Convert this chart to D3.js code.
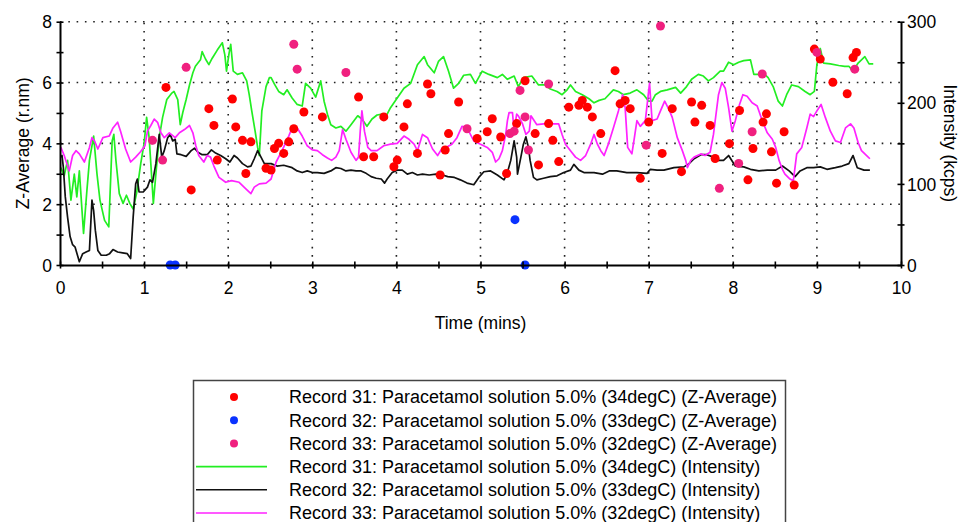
<!DOCTYPE html>
<html><head><meta charset="utf-8">
<script src="https://cdn.jsdelivr.net/npm/d3@7"></script>
<style>
body{margin:0;background:#fff;}
svg{display:block;font-family:"Liberation Sans",Arial,sans-serif;}
</style></head><body>
<svg id="c" width="968" height="522"></svg>
<script>
// ---------- DATA ----------
const timeTicks = [0,0.5,1,1.5,2,2.5,3,3.5,4,4.5,5,5.5,6,6.5,7,7.5,8,8.5,9,9.5,10];
const zTicks = [0,1,2,3,4,5,6,7,8];
const intensityTicks = [0,50,100,150,200,250,300];
const zGrid = [2,4,6,8];
const timeGrid = [1,2,3,4,5,6,7,8,9];

// Z-Average scatter points [time (mins), Z-Average]
const r31Z = [[1.26,5.84],[1.56,2.47],[1.77,5.14],[1.83,4.59],[1.87,3.45],[2.05,5.46],[2.09,4.54],[2.17,4.10],[2.21,3.01],[2.27,4.05],[2.45,3.18],[2.51,3.12],[2.55,3.83],[2.60,4.00],[2.66,3.67],[2.72,4.05],[2.78,4.48],[2.90,5.03],[3.12,4.87],[3.55,5.52],[3.61,3.56],[3.73,3.56],[3.85,4.87],[3.97,3.23],[4.01,3.45],[4.09,4.54],[4.13,5.30],[4.25,3.67],[4.37,5.95],[4.41,5.63],[4.52,2.96],[4.58,3.78],[4.62,4.32],[4.74,5.36],[4.96,4.16],[5.08,4.38],[5.14,4.81],[5.24,4.21],[5.31,3.01],[5.43,4.65],[5.53,6.06],[5.65,4.32],[5.69,3.29],[5.81,4.65],[5.86,4.10],[5.93,3.40],[6.05,5.19],[6.17,5.25],[6.21,5.41],[6.27,5.19],[6.33,4.87],[6.43,4.32],[6.60,6.39],[6.66,5.30],[6.72,5.41],[6.78,5.14],[6.90,2.85],[7.00,4.70],[7.16,3.67],[7.28,5.14],[7.39,3.07],[7.51,5.36],[7.55,4.70],[7.63,5.25],[7.73,4.59],[7.79,3.50],[7.96,3.99],[8.08,5.08],[8.18,2.80],[8.24,3.83],[8.36,4.70],[8.40,4.97],[8.46,3.72],[8.52,2.69],[8.61,4.38],[8.73,2.63],[8.97,7.10],[9.04,6.77],[9.19,6.01],[9.36,5.63],[9.43,6.82],[9.47,6.99]];
const r32Z = [[1.31,0],[1.37,0],[5.41,1.49],[5.53,0]];
const r33Z = [[1.10,4.10],[1.22,3.45],[1.50,6.50],[2.78,7.26],[2.82,6.44],[3.40,6.33],[4.84,4.48],[5.35,4.32],[5.40,4.40],[5.47,5.74],[5.53,4.87],[5.57,3.78],[5.81,5.95],[6.97,3.94],[7.14,7.86],[7.84,2.52],[8.07,3.34],[8.23,4.38],[8.35,6.28],[9.00,6.99],[9.45,6.44]];

// Intensity lines [time (mins), kcps]
const r31Intensity = [[0.01,120],[0.05,110],[0.09,129],[0.13,80],[0.17,112],[0.20,84],[0.23,116],[0.28,39],[0.32,92],[0.35,129],[0.40,159],[0.44,112],[0.475,80],[0.53,55],[0.58,47],[0.62,153],[0.64,161],[0.665,129],[0.705,88],[0.75,76],[0.79,86],[0.83,76],[0.87,69],[0.91,88],[0.96,125],[1.00,150],[1.03,182],[1.06,157],[1.08,125],[1.11,76],[1.14,112],[1.18,157],[1.22,182],[1.27,204],[1.33,212],[1.355,214],[1.40,204],[1.43,173],[1.46,188],[1.50,204],[1.54,222],[1.58,237],[1.61,245],[1.67,253],[1.69,263],[1.73,254],[1.77,247],[1.81,255],[1.87,265],[1.93,274],[1.96,259],[1.98,239],[2.01,261],[2.03,272],[2.06,239],[2.11,235],[2.17,237],[2.22,227],[2.25,210],[2.28,190],[2.32,165],[2.35,145],[2.37,135],[2.40,190],[2.45,220],[2.49,231],[2.51,231],[2.55,223],[2.60,214],[2.66,210],[2.70,216],[2.76,206],[2.82,198],[2.88,196],[2.92,224],[2.98,218],[3.04,207],[3.10,227],[3.14,202],[3.18,186],[3.22,173],[3.28,169],[3.34,171],[3.40,165],[3.46,173],[3.54,184],[3.59,180],[3.65,171],[3.71,180],[3.77,185],[3.83,186],[3.87,182],[3.93,194],[4.01,206],[4.09,218],[4.17,224],[4.25,247],[4.33,257],[4.37,247],[4.45,237],[4.50,251],[4.56,257],[4.62,239],[4.68,218],[4.74,224],[4.80,234],[4.88,235],[4.94,224],[5.02,239],[5.10,235],[5.20,231],[5.26,235],[5.32,229],[5.40,233],[5.45,220],[5.51,231],[5.61,233],[5.69,222],[5.77,222],[5.83,217],[5.91,214],[5.97,210],[6.03,216],[6.07,222],[6.13,214],[6.21,210],[6.29,205],[6.35,200],[6.41,203],[6.48,205],[6.58,216],[6.64,214],[6.70,210],[6.78,212],[6.86,216],[6.94,210],[7.00,202],[7.04,202],[7.08,210],[7.14,214],[7.22,216],[7.32,219],[7.38,212],[7.45,220],[7.51,229],[7.59,235],[7.65,233],[7.71,227],[7.77,231],[7.85,239],[7.89,239],[7.95,250],[8.01,247],[8.07,250],[8.13,252],[8.21,253],[8.25,235],[8.31,235],[8.36,237],[8.42,231],[8.48,220],[8.54,202],[8.59,196],[8.64,210],[8.70,222],[8.78,220],[8.86,214],[8.92,210],[8.97,214],[9.00,247],[9.04,267],[9.08,249],[9.16,248],[9.26,246],[9.33,245],[9.38,245],[9.43,239],[9.49,249],[9.57,257],[9.62,248],[9.67,248]];
const r32Intensity = [[0.01,133],[0.024,135],[0.04,120],[0.063,84],[0.09,59],[0.12,35],[0.15,25],[0.18,22],[0.23,4],[0.27,14],[0.31,16],[0.35,18],[0.38,80],[0.40,67],[0.42,43],[0.45,18],[0.49,12],[0.55,12],[0.59,14],[0.63,19],[0.685,16],[0.745,15],[0.80,14],[0.84,8],[0.87,59],[0.90,100],[0.92,106],[0.94,90],[0.99,90],[1.04,96],[1.07,105],[1.10,102],[1.14,125],[1.18,161],[1.21,133],[1.24,141],[1.28,157],[1.31,161],[1.34,153],[1.37,155],[1.39,137],[1.44,136],[1.50,134],[1.56,141],[1.60,144],[1.64,139],[1.69,136],[1.75,136],[1.80,142],[1.85,138],[1.91,135],[1.97,131],[2.02,127],[2.07,135],[2.11,132],[2.17,125],[2.23,121],[2.27,122],[2.31,131],[2.35,141],[2.39,133],[2.43,125],[2.51,125],[2.58,122],[2.66,123],[2.76,120],[2.82,116],[2.88,114],[2.94,116],[3.00,114],[3.06,114],[3.14,113],[3.22,116],[3.28,120],[3.34,119],[3.40,116],[3.46,117],[3.52,116],[3.58,116],[3.64,113],[3.70,109],[3.76,107],[3.82,106],[3.86,101],[3.89,106],[3.95,114],[4.01,117],[4.07,117],[4.13,112],[4.19,114],[4.25,111],[4.31,112],[4.39,111],[4.47,112],[4.55,111],[4.61,109],[4.69,108],[4.76,105],[4.84,101],[4.92,99],[4.98,108],[5.04,115],[5.12,116],[5.20,111],[5.28,105],[5.32,114],[5.36,129],[5.40,153],[5.43,133],[5.44,112],[5.48,133],[5.51,149],[5.54,158],[5.57,145],[5.59,129],[5.63,108],[5.67,105],[5.75,107],[5.83,109],[5.91,110],[5.99,114],[6.07,117],[6.11,124],[6.17,117],[6.23,114],[6.35,114],[6.45,112],[6.53,116],[6.62,116],[6.74,114],[6.86,114],[6.98,113],[7.02,118],[7.10,117],[7.18,117],[7.30,120],[7.42,121],[7.48,125],[7.54,131],[7.62,136],[7.69,136],[7.77,133],[7.81,129],[7.89,129],[7.95,135],[8.03,122],[8.13,121],[8.21,118],[8.31,116],[8.41,117],[8.51,117],[8.59,122],[8.67,116],[8.74,109],[8.80,116],[8.88,120],[8.96,120],[9.04,121],[9.12,118],[9.22,120],[9.30,122],[9.38,125],[9.43,135],[9.48,120],[9.56,117],[9.63,117]];
const r33Intensity = [[0.01,145],[0.05,135],[0.11,116],[0.15,135],[0.19,141],[0.23,137],[0.29,127],[0.35,145],[0.38,157],[0.41,153],[0.45,143],[0.51,157],[0.585,159],[0.63,169],[0.685,176],[0.72,165],[0.78,143],[0.84,127],[0.90,133],[0.96,140],[1.01,147],[1.04,165],[1.08,172],[1.12,180],[1.16,176],[1.20,163],[1.24,157],[1.30,163],[1.37,157],[1.42,163],[1.48,167],[1.54,172],[1.58,163],[1.615,147],[1.65,135],[1.71,127],[1.75,135],[1.79,133],[1.83,122],[1.89,108],[1.97,102],[2.04,104],[2.13,102],[2.21,94],[2.27,88],[2.31,96],[2.37,100],[2.45,101],[2.51,106],[2.55,120],[2.57,127],[2.64,141],[2.72,159],[2.76,169],[2.82,169],[2.88,159],[2.94,147],[3.00,142],[3.06,141],[3.12,136],[3.18,132],[3.23,129],[3.28,133],[3.32,141],[3.36,167],[3.40,155],[3.46,139],[3.52,129],[3.55,133],[3.57,165],[3.59,190],[3.62,165],[3.66,145],[3.70,141],[3.77,141],[3.85,147],[3.93,149],[4.01,150],[4.09,159],[4.15,155],[4.21,149],[4.25,141],[4.31,161],[4.37,157],[4.43,143],[4.49,135],[4.55,145],[4.61,146],[4.66,149],[4.72,157],[4.78,171],[4.84,169],[4.92,153],[5.00,149],[5.08,145],[5.14,139],[5.18,127],[5.22,131],[5.26,141],[5.30,161],[5.32,178],[5.34,188],[5.38,188],[5.40,165],[5.43,186],[5.45,184],[5.50,174],[5.54,161],[5.58,165],[5.60,184],[5.67,173],[5.75,174],[5.83,174],[5.93,174],[5.97,161],[6.01,149],[6.07,141],[6.13,133],[6.19,129],[6.25,135],[6.31,149],[6.35,161],[6.39,149],[6.43,141],[6.47,135],[6.52,149],[6.58,169],[6.64,190],[6.69,210],[6.72,194],[6.75,145],[6.80,137],[6.83,157],[6.86,178],[6.90,171],[6.96,178],[7.01,224],[7.04,178],[7.10,180],[7.14,190],[7.19,202],[7.24,192],[7.28,182],[7.34,157],[7.40,141],[7.44,129],[7.46,120],[7.50,129],[7.54,133],[7.62,137],[7.67,135],[7.73,139],[7.77,161],[7.83,210],[7.87,225],[7.91,218],[7.95,194],[7.99,165],[8.03,178],[8.08,198],[8.12,210],[8.17,208],[8.23,200],[8.29,196],[8.35,178],[8.41,163],[8.47,155],[8.51,145],[8.55,129],[8.59,118],[8.62,112],[8.68,106],[8.72,104],[8.76,137],[8.82,145],[8.88,169],[8.92,186],[8.96,183],[9.00,190],[9.05,198],[9.10,182],[9.16,165],[9.22,153],[9.28,151],[9.34,169],[9.40,174],[9.44,169],[9.49,151],[9.53,141],[9.57,137],[9.63,131]];

const legendLabels = [
  "Record 31: Paracetamol solution 5.0% (34degC) (Z-Average)",
  "Record 32: Paracetamol solution 5.0% (33degC) (Z-Average)",
  "Record 33: Paracetamol solution 5.0% (32degC) (Z-Average)",
  "Record 31: Paracetamol solution 5.0% (34degC) (Intensity)",
  "Record 32: Paracetamol solution 5.0% (33degC) (Intensity)",
  "Record 33: Paracetamol solution 5.0% (32degC) (Intensity)"
];
const legendKinds = ["dot","dot","dot","line","line","line"];
const seriesColors = ["#ff0000","#0a32ff","#f0207f","#22ee22","#111111","#ff22ff"];

// ---------- CHART ----------
const svg = d3.select("#c");
const X0 = 60, X1 = 901, Y0 = 265, Y1 = 21.7;
const FS = "17.5px";
const x = d3.scaleLinear().domain([0,10]).range([X0,X1]);
const yZ = d3.scaleLinear().domain([0,8]).range([Y0,Y1]);
const yI = d3.scaleLinear().domain([0,300]).range([Y0,Y1]);

// dotted grid
const grid = svg.append("g").attr("stroke","#222").attr("stroke-width",1.6).attr("stroke-dasharray","1.6,6.7");
grid.selectAll("line.gh").data(zGrid).join("line").attr("class","gh")
  .attr("x1",X0).attr("x2",X1).attr("y1",d=>yZ(d)).attr("y2",d=>yZ(d));
grid.selectAll("line.gv").data(timeGrid).join("line").attr("class","gv")
  .attr("x1",d=>x(d)).attr("x2",d=>x(d)).attr("y1",Y0).attr("y2",Y1);

// intensity lines
const lineGen = d3.line().x(d=>x(d[0])).y(d=>yI(d[1]));
[[r31Intensity,seriesColors[3]],[r32Intensity,seriesColors[4]],[r33Intensity,seriesColors[5]]].forEach(([data,col])=>{
  svg.append("path").datum(data).attr("d",lineGen).attr("fill","none")
    .attr("stroke",col).attr("stroke-width",1.7).attr("stroke-linejoin","round");
});

// scatter
[[r31Z,seriesColors[0]],[r32Z,seriesColors[1]],[r33Z,seriesColors[2]]].forEach(([data,col])=>{
  svg.append("g").selectAll("circle").data(data).join("circle")
    .attr("cx",d=>x(d[0])).attr("cy",d=>yZ(d[1])).attr("r",4.5).attr("fill",col);
});

// axes
function styleAxis(g){
  g.attr("font-family",null).attr("font-size",null);
  g.select(".domain").attr("stroke","#000").attr("stroke-width",2);
  g.selectAll(".tick line").attr("stroke","#000").attr("stroke-width",1.6);
  g.selectAll(".tick text").attr("fill","#000").style("font-size",FS);
}
const gx = svg.append("g").attr("transform",`translate(0,${Y0})`)
  .call(d3.axisBottom(x).tickValues(timeTicks).tickFormat(d=>Number.isInteger(d)?d:"").tickSizeOuter(0).tickSize(0));
styleAxis(gx);
gx.selectAll(".tick line").attr("y1",-3.5).attr("y2",3.5);
gx.selectAll(".tick text").attr("y",29).attr("dy",null);

const gl = svg.append("g").attr("transform",`translate(${X0},0)`)
  .call(d3.axisLeft(yZ).tickValues(zTicks).tickFormat(d=>d%2===0?d:"").tickSizeOuter(0).tickSize(0));
styleAxis(gl);
gl.selectAll(".tick line").attr("x1",-3.5).attr("x2",3.5);
gl.selectAll(".tick text").attr("x",-8).attr("dy","0.35em");

const gr = svg.append("g").attr("transform",`translate(${X1},0)`)
  .call(d3.axisRight(yI).tickValues(intensityTicks).tickFormat(d=>d%100===0?d:"").tickSizeOuter(0).tickSize(0));
styleAxis(gr);
gr.selectAll(".tick line").attr("x1",-3.5).attr("x2",3.5);
gr.selectAll(".tick text").attr("x",6).attr("dy","0.35em");

// axis titles
svg.append("text").attr("x",(X0+X1)/2).attr("y",329).attr("text-anchor","middle").style("font-size",FS).text("Time (mins)");
svg.append("text").attr("transform",`translate(29,${(Y0+Y1)/2}) rotate(-90)`).attr("text-anchor","middle").style("font-size",FS).text("Z-Average (r.nm)");
svg.append("text").attr("transform",`translate(944,${(Y0+Y1)/2}) rotate(90)`).attr("text-anchor","middle").style("font-size",FS).text("Intensity (kcps)");

// legend
const lg = svg.append("g");
lg.append("rect").attr("x",193.5).attr("y",380.5).attr("width",592).attr("height",160)
  .attr("fill","#fff").attr("stroke","#444").attr("stroke-width",1.5);
const rowY = d3.scaleLinear().domain([0,5]).range([397,513]);
legendLabels.forEach((lab,i)=>{
  const cy = rowY(i);
  if(legendKinds[i]==="dot"){
    lg.append("circle").attr("cx",234).attr("cy",cy).attr("r",4).attr("fill",seriesColors[i]);
  } else {
    lg.append("line").attr("x1",196).attr("x2",267).attr("y1",cy).attr("y2",cy)
      .attr("stroke",seriesColors[i]).attr("stroke-width",1.6);
  }
  lg.append("text").attr("x",289).attr("y",cy).attr("dy","0.35em").style("font-size","18px").text(lab);
});
</script>
</body></html>
